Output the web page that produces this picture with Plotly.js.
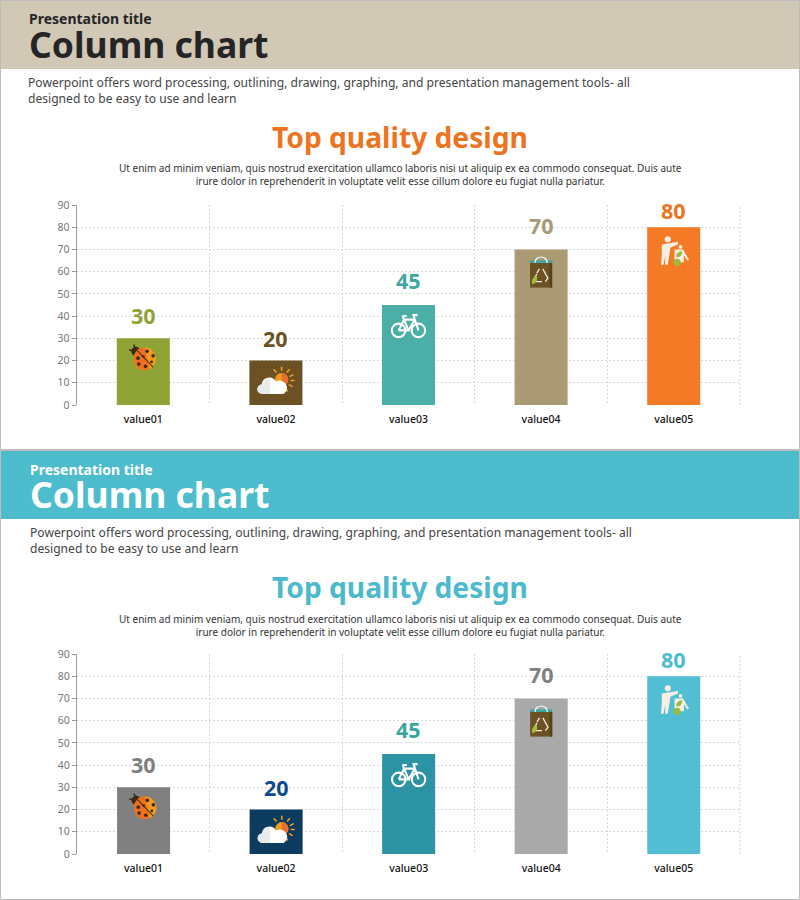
<!DOCTYPE html>
<html><head><meta charset="utf-8">
<script src="https://cdn.plot.ly/plotly-3.0.1.min.js"></script>
<style>html,body{margin:0;padding:0;background:#fff}#c{width:800px;height:900px}</style></head>
<body><div id="c"></div>
<script>
const categories = ['value01','value02','value03','value04','value05'];
const values = [30,20,45,70,80];
const tickVals = [0,10,20,30,40,50,60,70,80,90];
const barColorsTop = ['#8fa337','#6b5124','#4bafa8','#ab9b75','#f47a25'];
const labelColorsTop = ['#8fa337','#6b5124','#3fa8a2','#a89a78','#ec7420'];
const barColorsBottom = ['#808080','#0b3c60','#2b93a3','#a9a9a9','#52bed3'];
const labelColorsBottom = ['#7f7f7f','#0d4a8f','#3aa6a0','#7f7f7f','#4dbccd'];
const labelGaps = [23,22,24.5,23.5,16.5];
const iconDrops = [19,21,20,22,24];
const H=900,W=800;
const FONT='"Noto Sans", sans-serif';
const para1='Powerpoint offers word processing, outlining, drawing, graphing, and presentation management tools- all';
const para2='designed to be easy to use and learn';
const sub1='Ut enim ad minim veniam, quis nostrud exercitation ullamco laboris nisi ut aliquip ex ea commodo consequat. Duis aute';
const sub2='irure dolor in reprehenderit in voluptate velit esse cillum dolore eu fugiat nulla pariatur.';

function svg(body){return 'data:image/svg+xml;utf8,'+encodeURIComponent('<svg xmlns="http://www.w3.org/2000/svg" viewBox="0 0 40 40" width="160" height="160">'+body+'</svg>');}
const iconBug=svg('<path d="M10 9 L7 3 M8 12 L1 10" stroke="#3a2a15" stroke-width="2"/><circle cx="10" cy="12" r="6" fill="#3a2a15"/><circle cx="22" cy="22" r="15" fill="#f39a1e"/><path d="M22 7 A15 15 0 0 0 22 37 L28 36 Z" fill="#ee6f1f"/><path d="M12 11 L33 33" stroke="#4a3015" stroke-width="1.4"/><g fill="#3a2a15"><circle cx="25" cy="12" r="2.4"/><circle cx="33" cy="18" r="2.4"/><circle cx="31" cy="26" r="1.8"/><circle cx="13" cy="21" r="2.6"/><circle cx="20" cy="19" r="1.8"/><circle cx="14" cy="29" r="2.4"/><circle cx="23" cy="32" r="2.4"/></g>');
const iconCloud=svg('<g stroke="#f2a020" stroke-width="1.6" stroke-linecap="round"><path d="M26 5V8M18 7.5L20 10M34 7.5L32 10M38 13L35 14.5M39 19H36M37 25L34 23.5M32 30L30.5 27.5"/></g><circle cx="26" cy="18" r="7" fill="#f39a1e"/><path d="M26 11 A7 7 0 0 1 26 25Z" fill="#ec6e2b"/><path d="M6 33 A5 5 0 0 1 5 23 A8 8 0 0 1 20 20 A6.5 6.5 0 0 1 28 33Z" fill="#fff"/><path d="M6 33 A5 5 0 0 1 5 23 A8 8 0 0 1 14 17 V33Z" fill="#e8ebec"/>');
const iconBike=svg('<g fill="none" stroke="#fff" stroke-width="2.3"><circle cx="9" cy="26" r="7.5"/><circle cx="31" cy="26" r="7.5"/><path d="M9 26 L15 14 H27 L31 26 M15 14 L20 26 H9 M20 26 L27 14 M13 10 H18 M15 14 L13.5 10 M27 14 L25.5 9 H30"/></g>');
const iconBag=svg('<rect x="7" y="7" width="26" height="5" fill="#3fa8a2"/><path d="M13 11 V9 A7 6 0 0 1 27 9 V11" fill="none" stroke="#fff" stroke-width="1.4"/><rect x="7" y="10" width="26" height="29" fill="#6b5124"/><rect x="30" y="10" width="3" height="29" fill="#57401b"/><path d="M18 17 L15 22 M22 17 L28 28 L25 32 M21 32 H14 L12 28 L15 23" fill="none" stroke="#f3efe2" stroke-width="1.5"/><path d="M9 33 C9 28 12 26 15 25 C16 30 14 34 10 35Z" fill="#a4bd3a"/>');
const iconMan=svg('<circle cx="13" cy="6" r="3.6" fill="#f6efe2"/><path d="M6 12 L13 11 L25 9 L25 12 L16 16 L15 24 L13 36 H10 L10 26 L8 36 H5 L6 24 Z" fill="#f6efe2"/><circle cx="28" cy="15" r="2.2" fill="#f6efe2"/><path d="M21 18 H31 L38 30 L36 31 L32 25 V33 H21 Z" fill="#f6efe2"/><path d="M23 25 C24 21 28 20 30 20 C30 25 27 28 23 27Z" fill="#9cbb3c"/><circle cx="24" cy="33" r="4.2" fill="#9cbb3c"/>');
const iconSources=[iconBug,iconCloud,iconBike,iconBag,iconMan];
const iconPx=[30,38,36,34,34];

const GRID='#d8d8d8',DOTS='2px,2px';
const dom=(top,bot)=>[1-bot/H,1-top/H];
function paperText(t,xp,yp,size,color,extra){return Object.assign({text:t,xref:'paper',yref:'paper',x:xp/W,y:1-yp/H,xanchor:'left',yanchor:'middle',showarrow:false,font:{family:FONT,size:size,color:color}},extra||{});}
function axisY(d,anchor){return {domain:d,range:[0,90],tickvals:tickVals,ticks:'outside',ticklen:4,tickcolor:'#999',tickwidth:1,showline:true,linecolor:'#999',linewidth:1.5,anchor:anchor,showgrid:true,gridcolor:GRID,griddash:DOTS,gridwidth:1,zeroline:false,tickfont:{family:FONT,size:10.5,color:'#777'},fixedrange:true};}
function axisX(d,anchor){return {domain:d,type:'category',categoryorder:'array',categoryarray:categories,range:[-0.5,4.5],tickson:'boundaries',ticks:'',ticklabelstandoff:6,showline:false,anchor:anchor,showgrid:true,gridcolor:GRID,griddash:DOTS,gridwidth:1,tickfont:{family:FONT,size:10.5,color:'#111',weight:500},fixedrange:true};}

const traces=[
 {type:'bar',x:categories,y:values,xaxis:'x',yaxis:'y',width:0.4,marker:{color:barColorsTop},hoverinfo:'skip',showlegend:false},
 {type:'bar',x:categories,y:values,xaxis:'x2',yaxis:'y2',width:0.4,marker:{color:barColorsBottom},hoverinfo:'skip',showlegend:false}
];
const annotations=[];
const images=[];
function panel(offset,dx,xr,yr,headColor,titleColor,labelColors){
 annotations.push(paperText('<b>Presentation title</b>',27+dx,19+offset,14,titleColor));
 annotations.push(paperText('<b>Column chart</b>',27+dx,44+offset,35.5,titleColor));
 annotations.push(paperText(para1+'<br>'+para2,26+2*dx,90.5+offset,12.1,'#444',{align:'left'}));
 annotations.push(paperText('<b>Top quality design</b>',400,137+offset,28.2,headColor,{xanchor:'center'}));
 annotations.push(paperText(sub1+'<br>'+sub2,400,175+offset,10,'#333',{xanchor:'center',align:'center'}));
 const pxPerUnit=200/90;
 categories.forEach((c,i)=>{
  annotations.push({text:'<b>'+values[i]+'</b>',xref:xr,yref:yr,x:i,y:values[i],yshift:labelGaps[i],xanchor:'center',yanchor:'middle',showarrow:false,font:{family:FONT,size:21.5,color:labelColors[i]}});
  images.push({source:iconSources[i],xref:xr,yref:yr,x:i,y:values[i]-iconDrops[i]/pxPerUnit,sizex:iconPx[i]/132.6,sizey:iconPx[i]/pxPerUnit,xanchor:'center',yanchor:'middle',sizing:'contain',layer:'above'});
 });
}
panel(0,0,'x','y','#ec7420','#252525',labelColorsTop);
panel(450,1,'x2','y2','#4cb9cc','#ffffff',labelColorsBottom);

const rect=(x0,y0,x1,y1,fill,line)=>({type:'rect',xref:'paper',yref:'paper',x0:x0/W,x1:x1/W,y0:1-y1/H,y1:1-y0/H,fillcolor:fill,line:{width:line?1:0,color:line||'rgba(0,0,0,0)'},layer:'below'});
const rightEdge=(xr,yr)=>({type:'line',xref:xr+' domain',yref:yr+' domain',x0:1,x1:1,y0:0,y1:1,line:{width:1,color:GRID,dash:DOTS},layer:'below'});
const layout={width:W,height:H,margin:{l:0,r:0,t:0,b:0,pad:0},paper_bgcolor:'#fff',plot_bgcolor:'rgba(0,0,0,0)',showlegend:false,bargap:0.6,
 xaxis:axisX([77/W,740/W],'y'),yaxis:axisY(dom(205,405),'x'),
 xaxis2:axisX([77.3/W,740/W],'y2'),yaxis2:axisY(dom(654,854),'x2'),
 annotations:annotations,images:images,
 shapes:[rect(0,0,800,69,'#d2c8b6'),rect(0,450,800,519,'#4dbccd'),rect(0.5,0.5,799.5,449.5,'rgba(0,0,0,0)','#bdbdbd'),rect(0.5,450.5,799.5,899.5,'rgba(0,0,0,0)','#bdbdbd'),rightEdge('x','y'),rightEdge('x2','y2')]};
Plotly.newPlot('c',traces,layout,{displayModeBar:false,staticPlot:true});
</script></body></html>
